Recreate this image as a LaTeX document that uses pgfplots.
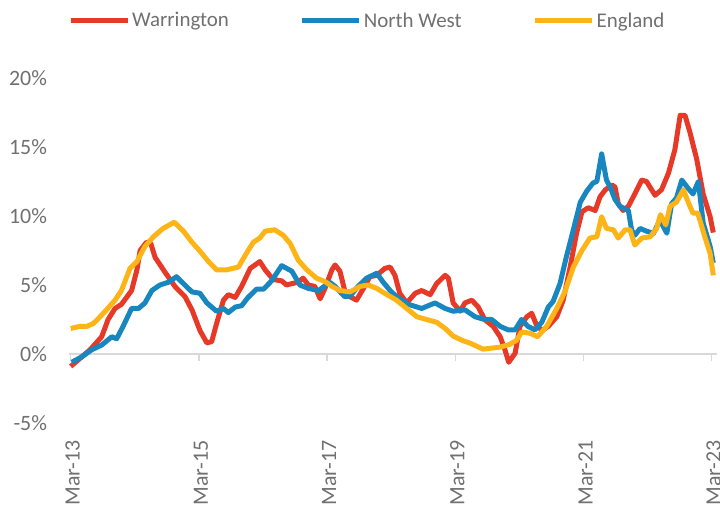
\documentclass[border=0pt]{standalone}
\usepackage{fontspec}
\setmainfont{Carlito}
\usepackage{pgfplots}
\pgfplotsset{compat=1.18}
\definecolor{cW}{RGB}{230,57,40}
\definecolor{cN}{RGB}{24,135,192}
\definecolor{cE}{RGB}{252,180,22}
\definecolor{txt}{RGB}{112,112,112}
\definecolor{axgray}{RGB}{217,217,217}
\begin{document}
\begin{tikzpicture}
\useasboundingbox (0,0) rectangle (720bp,513bp);
\begin{axis}[
  at={(70.7bp,90bp)}, anchor=south west,
  scale only axis, width=641bp, height=345bp,
  xmin=0, xmax=120, ymin=-5, ymax=20,
  clip=false,
  axis line style={draw=none},
  major tick length=0pt,
  xtick={0,24,48,72,96,120},
  xticklabels={Mar-13,Mar-15,Mar-17,Mar-19,Mar-21,Mar-23},
  ytick={-5,0,5,10,15,20},
  yticklabels={-5\%,0\%,5\%,10\%,15\%,20\%},
  tick label style={font=\fontsize{22}{26}\selectfont, text=txt, inner sep=0pt},
  xticklabel style={rotate=90, anchor=east, yshift=-2bp},
  yticklabel style={anchor=east},
  xticklabel shift=17bp,
  yticklabel shift=23.5bp,
  legend style={at={(axis description cs:-0.0042,1.1667)}, anchor=west, draw=none, fill=none,
    legend columns=3, font=\fontsize{21}{25}\selectfont, text=txt, inner sep=0pt,
    nodes={inner sep=2bp},
    /tikz/every even column/.append style={column sep=69bp}},
  legend image code/.code={\path (0bp,0bp) -- (57bp,0bp); \draw[#1, line width=5.5bp, line cap=round] (3bp,0bp) -- (54bp,0bp);},
]
\draw[axgray, line width=1.5bp] (axis cs:-0.3,0) -- (axis cs:120.9,0);
\draw[axgray, line width=1.5bp] (axis cs:0,0) -- ([yshift=-7bp]axis cs:0,0);
\draw[axgray, line width=1.5bp] (axis cs:24,0) -- ([yshift=-7bp]axis cs:24,0);
\draw[axgray, line width=1.5bp] (axis cs:48,0) -- ([yshift=-7bp]axis cs:48,0);
\draw[axgray, line width=1.5bp] (axis cs:72,0) -- ([yshift=-7bp]axis cs:72,0);
\draw[axgray, line width=1.5bp] (axis cs:96,0) -- ([yshift=-7bp]axis cs:96,0);
\draw[axgray, line width=1.5bp] (axis cs:120,0) -- ([yshift=-7bp]axis cs:120,0);

\addplot[cW, line width=5bp, line join=round, no markers] coordinates {
(0,-0.9)(3.6,0.3)(5.8,1.25)(7.0,2.5)(8.3,3.3)(9.5,3.6)(11.4,4.6)(12.4,6.1)(13.0,7.5)(14.2,8.1)(15.0,8.0)(15.8,7.0)(17.7,5.9)(19.5,4.9)(21.4,4.15)(22.7,3.2)(24.2,1.7)(25.5,0.8)(26.4,0.9)(27.3,2.2)(28.6,3.9)(29.5,4.3)(30.8,4.1)(32.0,4.9)(33.6,6.2)(35.4,6.7)(36.4,6.1)(37.9,5.4)(39.5,5.3)(40.4,5.0)(41.4,5.1)(42.6,5.2)(43.5,5.5)(44.5,5.0)(45.7,4.9)(46.7,4.0)(47.6,4.75)(48.9,6.1)(49.5,6.45)(50.4,6.0)(51.3,4.6)(52.3,4.15)(53.5,3.9)(54.8,4.75)(56.0,5.6)(57.3,5.7)(58.8,6.2)(59.8,6.3)(60.7,5.7)(61.6,4.4)(62.9,3.7)(64.5,4.4)(65.7,4.6)(67.3,4.3)(68.5,5.1)(70.1,5.7)(70.7,5.5)(71.6,3.7)(72.9,3.1)(73.8,3.7)(75.1,3.9)(76.3,3.4)(77.5,2.5)(79.1,2.0)(80.4,1.25)(81.3,0.3)(82.0,-0.6)(83.2,0.05)(84.1,2.0)(85.4,2.7)(86.3,2.95)(87.2,2.1)(88.2,1.7)(89.4,2.0)(91.0,2.7)(92.2,3.9)(93.5,6.3)(94.7,8.75)(95.7,10.3)(96.9,10.6)(98.2,10.4)(99.1,11.4)(100.1,11.9)(101.3,12.25)(101.9,12.1)(102.5,10.9)(103.4,10.4)(104.4,10.7)(105.6,11.6)(106.9,12.6)(107.8,12.5)(109.4,11.5)(110.6,11.9)(111.9,13.1)(113.1,14.8)(114.1,17.3)(115.0,17.3)(115.9,16.1)(117.2,14.1)(118.4,11.6)(119.7,9.95)(120.3,8.8)
};
\addlegendentry{Warrington}
\addplot[cN, line width=5bp, line join=round, no markers] coordinates {
(0.2,-0.6)(2.1,-0.2)(3.9,0.3)(5.8,0.65)(7.7,1.25)(8.6,1.1)(9.8,2.0)(11.4,3.3)(12.7,3.3)(13.9,3.7)(15.2,4.6)(16.7,5.0)(18.3,5.2)(19.8,5.6)(21.1,5.1)(22.7,4.5)(24.2,4.4)(25.5,3.7)(27.3,3.1)(28.6,3.3)(29.5,3.0)(30.8,3.4)(32.0,3.5)(33.2,4.1)(34.8,4.7)(36.1,4.7)(37.6,5.3)(39.5,6.4)(41.4,6.0)(42.9,5.0)(44.5,4.75)(46.4,4.6)(48.5,5.2)(49.5,4.9)(51.3,4.15)(52.3,4.2)(53.8,4.9)(55.4,5.5)(57.3,5.85)(58.5,5.2)(59.8,4.6)(61.0,4.15)(63.2,3.6)(65.7,3.3)(68.2,3.7)(70.1,3.3)(71.6,3.1)(73.8,3.2)(75.7,2.7)(77.5,2.5)(78.8,2.5)(80.4,2.0)(81.9,1.75)(83.2,1.75)(84.4,2.5)(85.6,2.0)(86.9,1.75)(88.2,2.3)(89.4,3.4)(90.3,3.8)(91.6,5.1)(92.8,7.05)(94.1,9.0)(95.4,11.0)(96.6,11.8)(97.8,12.4)(98.5,12.5)(99.4,14.5)(100.3,12.6)(101.0,12.1)(101.9,11.2)(102.8,10.7)(104.4,10.4)(105.0,9.0)(105.6,8.6)(106.6,9.1)(107.8,8.9)(109.1,8.75)(110.3,9.7)(111.6,8.75)(112.5,10.9)(113.4,11.3)(114.4,12.6)(115.6,12.0)(116.5,11.6)(117.5,12.5)(118.4,9.5)(119.7,7.8)(120.3,6.6)
};
\addlegendentry{North West}
\addplot[cE, line width=5bp, line join=round, no markers] coordinates {
(0,1.85)(1.7,2.0)(3.0,2.0)(4.2,2.2)(5.5,2.7)(6.7,3.2)(8.3,3.9)(9.5,4.6)(11.1,6.2)(12.4,6.7)(13.9,7.8)(15.5,8.5)(17.3,9.1)(19.4,9.55)(21.1,8.9)(22.7,8.1)(24.2,7.45)(25.8,6.7)(27.3,6.1)(29.2,6.1)(31.4,6.3)(32.9,7.3)(34.2,8.1)(35.4,8.4)(36.4,8.9)(38.2,9.0)(39.8,8.6)(41.1,8.0)(42.6,6.8)(44.2,6.1)(46.0,5.5)(47.6,5.25)(48.9,4.9)(50.4,4.6)(52.3,4.5)(54.2,4.9)(55.7,5.0)(57.3,4.75)(59.2,4.3)(61.0,3.9)(62.9,3.3)(64.8,2.7)(66.6,2.5)(68.5,2.3)(70.1,1.85)(71.6,1.3)(73.5,0.95)(74.7,0.8)(77.2,0.35)(80.4,0.5)(82.2,0.7)(83.5,1.0)(84.4,1.6)(86.0,1.5)(87.4,1.25)(89.1,2.0)(91.0,3.3)(92.5,4.5)(94.1,6.3)(95.7,7.5)(97.2,8.4)(98.5,8.5)(99.4,9.95)(100.3,9.1)(101.6,9.0)(102.5,8.4)(103.8,9.0)(104.7,9.0)(105.6,7.9)(106.9,8.4)(108.5,8.5)(109.7,9.1)(110.4,10.1)(111.4,9.35)(112.2,10.7)(113.4,11.0)(114.7,11.9)(115.6,11.0)(116.5,10.2)(117.4,10.2)(118.7,8.5)(119.7,7.3)(120.3,5.7)
};
\addlegendentry{England}
\end{axis}
\end{tikzpicture}
\end{document}
